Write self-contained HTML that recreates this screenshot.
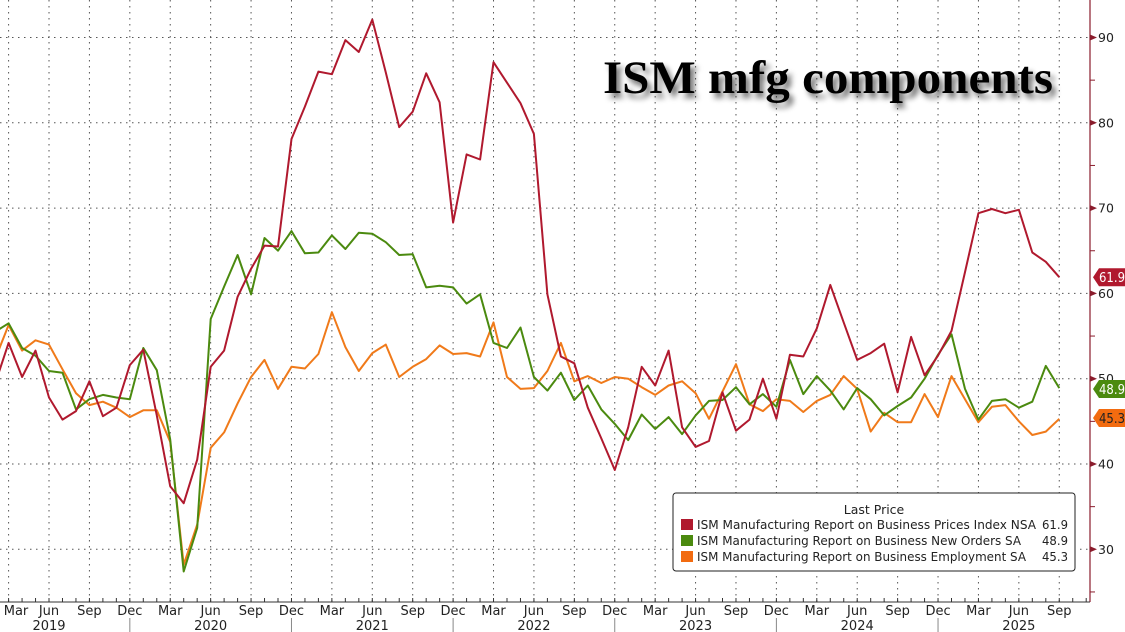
<!DOCTYPE html>
<html><head><meta charset="utf-8"><style>
html,body{margin:0;padding:0;background:#fff;width:1125px;height:632px;overflow:hidden}
svg{display:block}
</style></head><body>
<svg id="c" width="1125" height="632" xmlns="http://www.w3.org/2000/svg" font-family="Tahoma, 'DejaVu Sans', 'Liberation Sans', sans-serif">
<defs><filter id="sh" x="-10%" y="-30%" width="120%" height="160%"><feGaussianBlur in="SourceAlpha" stdDeviation="3"/><feOffset dx="4" dy="5"/><feComponentTransfer><feFuncA type="linear" slope="0.55"/></feComponentTransfer><feMerge><feMergeNode/><feMergeNode in="SourceGraphic"/></feMerge></filter></defs>
<g id="grid"></g>
<g id="series"></g>
<text x="603" y="93" font-family="'Liberation Serif', serif" font-weight="bold" font-size="47" textLength="450" lengthAdjust="spacingAndGlyphs" fill="#000" filter="url(#sh)">ISM mfg components</text>
<g id="axis"></g>
<rect x="673" y="493" width="402" height="78" rx="3" fill="#fff" stroke="#222" stroke-width="1"/>
<text x="874" y="514" font-size="12.5" text-anchor="middle" fill="#222">Last Price</text>
<rect x="681" y="519" width="12" height="11" fill="#b0192e"/>
<rect x="681" y="535" width="12" height="11" fill="#4b8a0f"/>
<rect x="681" y="551" width="12" height="11" fill="#f26b10"/>
<g font-size="12.5" fill="#222">
<text x="697" y="529" textLength="339" lengthAdjust="spacingAndGlyphs">ISM Manufacturing Report on Business Prices Index NSA</text>
<text x="697" y="545" textLength="324" lengthAdjust="spacingAndGlyphs">ISM Manufacturing Report on Business New Orders SA</text>
<text x="697" y="561" textLength="329" lengthAdjust="spacingAndGlyphs">ISM Manufacturing Report on Business Employment SA</text>
<text x="1068" y="529" text-anchor="end" textLength="26" lengthAdjust="spacingAndGlyphs">61.9</text>
<text x="1068" y="545" text-anchor="end" textLength="26" lengthAdjust="spacingAndGlyphs">48.9</text>
<text x="1068" y="561" text-anchor="end" textLength="26" lengthAdjust="spacingAndGlyphs">45.3</text>
</g>
</svg>
<script>
var NS="http://www.w3.org/2000/svg";
function X(m){return 8.6+13.47*m;}
function Y(v){return 37.5+(90-v)*8.53;}
function el(p,t,a,txt){var e=document.createElementNS(NS,t);for(var k in a)e.setAttribute(k,a[k]);if(txt!=null)e.textContent=txt;document.getElementById(p).appendChild(e);return e;}
for(var v=30;v<=90;v+=10)el("grid","line",{x1:0,x2:1090,y1:Y(v),y2:Y(v),stroke:"#555","stroke-width":1,"stroke-dasharray":"1.5,4.5"});
for(var m=0;m<=78;m+=3)el("grid","line",{x1:X(m),x2:X(m),y1:0,y2:602,stroke:"#555","stroke-width":1,"stroke-dasharray":"1.5,4.5"});
var red=[49.4,54.2,50.2,53.3,47.8,45.2,46.2,49.7,45.6,46.6,51.6,53.4,45.7,37.4,35.4,40.5,51.4,53.3,59.6,62.9,65.6,65.5,78.1,81.9,86.0,85.7,89.7,88.3,92.1,85.9,79.5,81.3,85.8,82.4,68.3,76.3,75.7,87.1,84.7,82.3,78.7,59.9,52.6,51.8,46.6,43.0,39.3,44.3,51.4,49.2,53.3,44.3,42.0,42.7,48.4,43.9,45.2,50.0,45.3,52.8,52.6,55.9,61.0,56.6,52.2,53.0,54.1,48.4,54.9,50.4,52.7,55.6,62.5,69.4,69.9,69.4,69.8,64.8,63.7,61.9];
var grn=[55.5,56.5,53.6,52.7,50.9,50.7,46.4,47.6,48.1,47.8,47.6,53.6,51.0,42.9,27.4,32.5,57.0,60.8,64.5,59.9,66.5,65.0,67.3,64.7,64.8,66.8,65.2,67.1,67.0,66.0,64.5,64.6,60.7,60.9,60.7,58.8,59.9,54.2,53.6,56.0,50.2,48.6,50.7,47.5,49.2,46.4,44.7,42.8,45.8,44.1,45.5,43.5,45.7,47.4,47.5,49.0,47.0,48.2,46.7,52.2,48.2,50.3,48.6,46.4,48.9,47.6,45.7,46.8,47.8,50.0,52.8,55.2,48.8,45.2,47.4,47.6,46.6,47.3,51.5,48.9];
var org=[52.3,56.3,53.3,54.5,54.0,51.1,48.3,46.9,47.3,46.6,45.5,46.3,46.3,42.6,28.2,32.9,41.9,43.7,47.1,50.2,52.2,48.8,51.4,51.2,52.9,57.8,53.7,50.9,53.0,54.0,50.2,51.4,52.3,53.9,52.9,53.0,52.6,56.6,50.2,48.8,48.9,50.9,54.2,49.7,50.3,49.5,50.2,50.0,49.0,48.1,49.2,49.7,48.3,45.3,48.5,51.7,47.0,46.2,47.6,47.4,46.1,47.4,48.1,50.3,48.8,43.8,46.0,44.9,44.9,48.2,45.5,50.3,47.6,44.9,46.7,46.9,45.0,43.4,43.8,45.3];
function line(d,c){var p=d.map(function(v,i){return X(i-1).toFixed(1)+","+Y(v).toFixed(1);}).join(" ");el("series","polyline",{points:p,fill:"none",stroke:c,"stroke-width":2,"stroke-linejoin":"round"});}
line(org,"#f07a1a");line(grn,"#4b8a0f");line(red,"#b0192e");
el("axis","line",{x1:1090,x2:1090,y1:0,y2:602,stroke:"#8a1c2c","stroke-width":1.2});
for(var v=25;v<=95;v+=5){var y=Y(v);if(y<0||y>602)continue;
 if(v%10==0){el("axis","path",{d:"M1090,"+(y-3)+" L1097,"+y+" L1090,"+(y+3)+"Z",fill:"#8a1c2c"});
  el("axis","text",{x:1098,y:y+4.5,"font-size":12.5,fill:"#222"},v);}
 else el("axis","line",{x1:1090,x2:1095,y1:y,y2:y,stroke:"#8a1c2c"});}
el("axis","line",{x1:0,x2:1090,y1:602,y2:602,stroke:"#333","stroke-width":1});
var mn=["Mar","Jun","Sep","Dec"];
for(var m=-2;m<=80;m++){var x=X(m);if(x<0||x>1090)continue;el("axis","line",{x1:x,x2:x,y1:598,y2:602,stroke:"#333"});}
for(var m=0;m<=78;m+=3)el("axis","text",{x:m==0?16:X(m),y:615,"font-size":13,"text-anchor":"middle",fill:"#222"},mn[(m/3)%4]);
for(var yr=0;yr<7;yr++){el("axis","text",{x:X(3+12*yr),y:630,"font-size":13,"text-anchor":"middle",fill:"#222"},2019+yr);
 if(yr<6)el("axis","line",{x1:X(9+12*yr),x2:X(9+12*yr),y1:618,y2:632,stroke:"#888"});}
function tag(v,y,c,tc){el("axis","path",{d:"M1093,"+y+" L1099,"+(y-9)+" L1125,"+(y-9)+" L1125,"+(y+9)+" L1099,"+(y+9)+"Z",fill:c});
 el("axis","text",{x:1099,y:y+5,"font-size":13,fill:tc,textLength:26,lengthAdjust:"spacingAndGlyphs"},v);}
tag("61.9",Y(61.9),"#b0192e","#fff");tag("48.9",389,"#4b8a0f","#fff");tag("45.3",418,"#f26b10","#222");
</script>
</body></html>
